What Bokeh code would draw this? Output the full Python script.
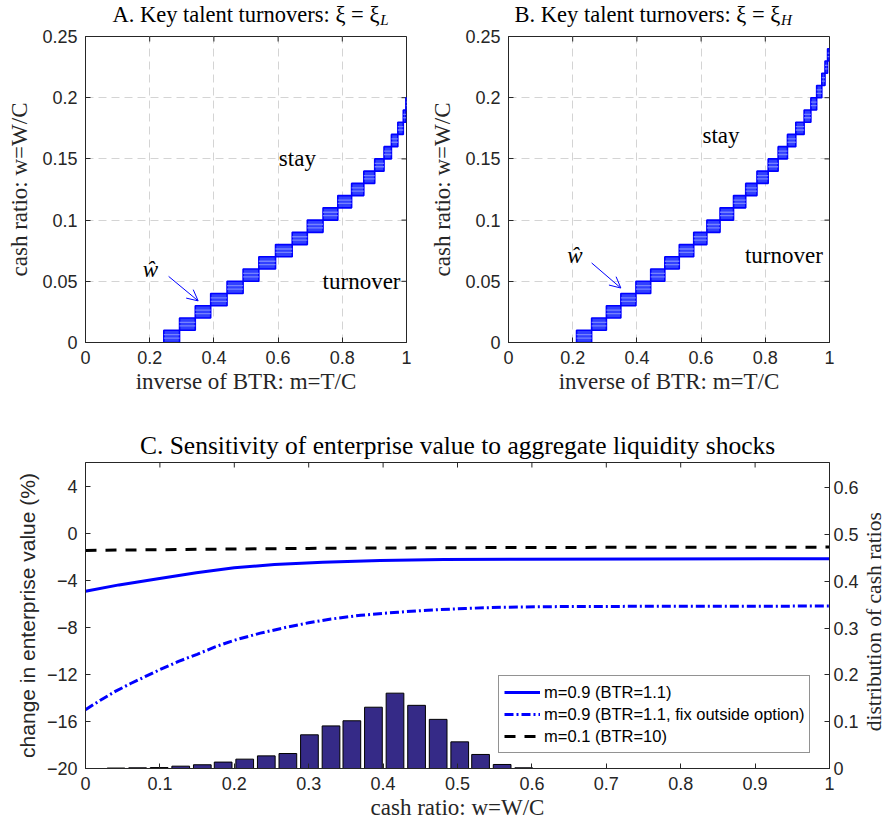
import numpy as np
from bokeh.plotting import figure
from bokeh.models import (Range1d, LinearAxis, FixedTicker, Label, Arrow, OpenHead,
                          Legend, LegendItem, Title)
from bokeh.layouts import column, row
from bokeh.embed import file_html
from bokeh.resources import INLINE
from bokeh.core.properties import value

# ---------------- data ----------------
# Panel A: turnover boundary blocks (xi = xi_L)
m_edges_A = [0.244, 0.293, 0.342, 0.390, 0.441, 0.491, 0.540, 0.592, 0.644, 0.691,
             0.740, 0.786, 0.829, 0.867, 0.901, 0.930, 0.953, 0.973, 0.990, 0.998, 1.003]
w_edges_A = [0.00, 0.01, 0.02, 0.03, 0.04, 0.05, 0.06, 0.07, 0.08, 0.09, 0.10,
             0.11, 0.12, 0.13, 0.14, 0.15, 0.16, 0.17, 0.18, 0.19, 0.20]
# Panel B: turnover boundary blocks (xi = xi_H)
m_edges_B = [0.212, 0.259, 0.305, 0.350, 0.397, 0.443, 0.487, 0.532, 0.577, 0.618,
             0.659, 0.701, 0.739, 0.774, 0.809, 0.840, 0.869, 0.895, 0.921, 0.942,
             0.960, 0.976, 0.986, 0.994, 1.0]
w_edges_B = [0.00, 0.01, 0.02, 0.03, 0.04, 0.05, 0.06, 0.07, 0.08, 0.09, 0.10,
             0.11, 0.12, 0.13, 0.14, 0.15, 0.16, 0.17, 0.18, 0.19, 0.20, 0.21,
             0.22, 0.23, 0.24]

# Panel C curves
w_solid = [0, 0.045, 0.0975, 0.149, 0.2, 0.254, 0.319, 0.396, 0.481, 0.579, 0.75, 1.0]
v_solid = [-4.94, -4.40, -3.88, -3.37, -2.95, -2.66, -2.47, -2.32, -2.24, -2.21, -2.19, -2.18]
w_dd = [0, 0.02, 0.04, 0.06, 0.08, 0.10, 0.125, 0.15, 0.175, 0.20, 0.235, 0.27, 0.30,
        0.33, 0.37, 0.42, 0.46, 0.51, 0.56, 0.64, 0.75, 0.85, 1.0]
v_dd = [-15.0, -14.2, -13.45, -12.8, -12.2, -11.6, -10.9, -10.3, -9.65, -9.1, -8.5, -8.0,
        -7.62, -7.3, -6.98, -6.72, -6.55, -6.4, -6.3, -6.24, -6.22, -6.21, -6.2]
w_dash = [0, 0.15, 0.3, 0.45, 0.6, 0.8, 1.0]
v_dash = [-1.47, -1.38, -1.30, -1.25, -1.22, -1.20, -1.19]

# Panel C histogram of cash ratios
hist_w = [0.041, 0.070, 0.099, 0.128, 0.157, 0.185, 0.214, 0.243, 0.272, 0.301,
          0.330, 0.358, 0.387, 0.416, 0.445, 0.474, 0.503, 0.531, 0.560, 0.589]
hist_h = [0.001, 0.0015, 0.002, 0.005, 0.008, 0.0137, 0.020, 0.027, 0.032, 0.072,
          0.091, 0.102, 0.131, 0.161, 0.135, 0.105, 0.057, 0.030, 0.0086, 0.0015]

xticks_AB = [0, 0.2, 0.4, 0.6, 0.8, 1]
xlabels_AB = ["0", "0.2", "0.4", "0.6", "0.8", "1"]
yticks_AB = [0, 0.05, 0.1, 0.15, 0.2, 0.25]
ylabels_AB = ["0", "0.05", "0.1", "0.15", "0.2", "0.25"]
xticks_C = [0, 0.1, 0.2, 0.3, 0.4, 0.5, 0.6, 0.7, 0.8, 0.9, 1]
xlabels_C = ["0", "0.1", "0.2", "0.3", "0.4", "0.5", "0.6", "0.7", "0.8", "0.9", "1"]
yticks_C = [-20, -16, -12, -8, -4, 0, 4]
rticks_C = [0, 0.1, 0.2, 0.3, 0.4, 0.5, 0.6]
rlabels_C = ["0", "0.1", "0.2", "0.3", "0.4", "0.5", "0.6"]

SERIF = "Liberation Serif"
SANS = "Liberation Sans"
AX = "#262626"
BLUE = "#0000ff"
TICK = 5


def style_axis(ax, ticks, labels=None, label_font=SERIF, label_size="23px"):
    ax.ticker = FixedTicker(ticks=ticks)
    if labels is not None:
        ax.major_label_overrides = {t: l for t, l in zip(ticks, labels)}
    ax.axis_line_color = AX
    ax.major_tick_line_color = AX
    ax.major_tick_in = TICK
    ax.major_tick_out = 0
    ax.minor_tick_line_color = None
    ax.major_label_text_font = SANS
    ax.major_label_text_color = AX
    ax.major_label_text_font_size = "18px"
    ax.axis_label_text_font = label_font
    ax.axis_label_text_font_style = "normal"
    ax.axis_label_text_color = AX
    ax.axis_label_text_font_size = label_size


def bare_fig(width, height, x_range, y_range):
    t = figure(width=width, height=height, output_backend="svg", toolbar_location=None,
               x_range=x_range, y_range=y_range, x_axis_type=None, y_axis_type=None,
               min_border=0)
    t.outline_line_color = None
    t.grid.visible = False
    return t


def title_fig(width, left_border, text_main, text_sub, x_end):
    # a strip above the panel, x in the same units as the panel's m axis
    t = bare_fig(width, 28, Range1d(-left_border / 321, (width - left_border) / 321),
                 Range1d(0, 28))
    t.text(x=[x_end], y=[14], text=[text_main], text_align="right",
           text_baseline="middle", text_font=value(SERIF), text_font_size="22.5px",
           text_color="black")
    t.text(x=[x_end + 0.003], y=[9], text=[text_sub], text_align="left",
           text_baseline="middle", text_font=value(SERIF), text_font_style="italic",
           text_font_size="15px", text_color="black")
    return t


def panel(m_edges, w_edges, left_border, right_border, what_xy, arrow_xy, stay_xy, turn_xy):
    p = figure(frame_width=321, frame_height=306, x_range=Range1d(0, 1),
               y_range=Range1d(0, 0.25), output_backend="svg", toolbar_location=None,
               min_border_left=left_border, min_border_right=right_border,
               min_border_top=8, min_border_bottom=63)
    p.outline_line_color = AX
    for g in (p.xgrid[0], p.ygrid[0]):
        g.grid_line_color = "#d4d4d4"
        g.grid_line_dash = "8 5"
        g.grid_line_width = 1
    p.xaxis.axis_label = "inverse of BTR: m=T/C"
    p.yaxis.axis_label = "cash ratio: w=W/C"
    style_axis(p.xaxis[0], xticks_AB, xlabels_AB)
    style_axis(p.yaxis[0], yticks_AB, ylabels_AB)
    p.xaxis.major_label_standoff = 8
    p.yaxis.major_label_standoff = 8
    p.xaxis.axis_label_standoff = 2
    p.yaxis.axis_label_standoff = 7
    # mirrored ticks on top and right edges (box on)
    ty = TICK * 0.25 / 306
    tx = TICK / 321
    p.segment(x0=xticks_AB, x1=xticks_AB, y0=[0.25] * len(xticks_AB),
              y1=[0.25 - ty] * len(xticks_AB), line_color=AX, line_width=1)
    p.segment(x0=[1] * len(yticks_AB), x1=[1 - tx] * len(yticks_AB), y0=yticks_AB,
              y1=yticks_AB, line_color=AX, line_width=1)

    me = np.array(m_edges)
    we = np.array(w_edges)
    left, rgt, bot, tp = me[:-1], me[1:], we[:-1], we[1:]
    p.quad(left=left, right=rgt, bottom=bot, top=tp, fill_color="#1f30ff",
           fill_alpha=0.92, line_color=BLUE, line_width=1.6)
    h = tp - bot
    for frac in (0.36, 0.64):
        yy = bot + frac * h
        p.segment(x0=left, x1=rgt, y0=yy, y1=yy, line_color="#7d8aff",
                  line_width=1.3, line_alpha=0.9)

    p.add_layout(Label(x=what_xy[0], y=what_xy[1], text="ŵ", text_font=SERIF,
                       text_font_style="italic", text_font_size="23px",
                       text_align="center", text_baseline="middle", text_color="black"))
    p.add_layout(Arrow(end=OpenHead(size=11, line_color=BLUE, line_width=1),
                       x_start=arrow_xy[0], y_start=arrow_xy[1],
                       x_end=arrow_xy[2], y_end=arrow_xy[3],
                       line_color=BLUE, line_width=1))
    p.add_layout(Label(x=stay_xy[0], y=stay_xy[1], text="stay", text_font=SERIF,
                       text_font_size="23px", text_align="center",
                       text_baseline="middle", text_color="black"))
    p.add_layout(Label(x=turn_xy[0], y=turn_xy[1], text="turnover", text_font=SERIF,
                       text_font_size="23px", text_align="center",
                       text_baseline="middle", text_color="black"))
    return p


tA = title_fig(416, 85, "A. Key talent turnovers: ξ = ξ", "L", 0.922)
pA = panel(m_edges_A, w_edges_A, 85, 10,
           (0.202, 0.060), (0.259, 0.054, 0.351, 0.034), (0.66, 0.150), (0.86, 0.050))
tB = title_fig(463, 92, "B. Key talent turnovers: ξ = ξ", "H", 0.935)
pB = panel(m_edges_B, w_edges_B, 92, 50,
           (0.207, 0.071), (0.259, 0.065, 0.350, 0.0445), (0.662, 0.169), (0.858, 0.071))

# ---------------- panel C ----------------
C_H = 57 + 306 + 58
pC = figure(frame_width=744, frame_height=306, x_range=Range1d(0, 1),
            y_range=Range1d(-20, 6), output_backend="svg", toolbar_location=None,
            min_border_left=85, min_border_right=30, min_border_top=57,
            min_border_bottom=58)
pC.title = Title(text="C. Sensitivity of enterprise value to aggregate liquidity shocks",
                 align="center", text_font=SERIF, text_font_size="25.5px",
                 text_font_style="normal", text_color="black", standoff=6)
pC.outline_line_color = AX
pC.grid.visible = False
pC.extra_y_ranges = {"dist": Range1d(0, 0.654)}
pC.xaxis.axis_label = "cash ratio: w=W/C"
pC.yaxis.axis_label = "change in enterprise value (%)"
style_axis(pC.xaxis[0], xticks_C, xlabels_C)
style_axis(pC.yaxis[0], yticks_C, label_font=SANS, label_size="21px")
pC.xaxis.major_label_standoff = 8
pC.yaxis.major_label_standoff = 8
pC.xaxis.axis_label_standoff = 2
pC.yaxis.axis_label_standoff = 5
raxis = LinearAxis(y_range_name="dist")
style_axis(raxis, rticks_C, rlabels_C)
raxis.major_label_standoff = 4
pC.add_layout(raxis, "right")
tyC = TICK * 26 / 306
pC.segment(x0=xticks_C, x1=xticks_C, y0=[6] * len(xticks_C), y1=[6 - tyC] * len(xticks_C),
           line_color=AX, line_width=1)

pC.vbar(x=hist_w, width=0.0238, top=hist_h, bottom=0, y_range_name="dist",
        fill_color="#352a87", line_color="black", line_width=1)
r1 = pC.line(w_solid, v_solid, line_color=BLUE, line_width=3)
r2 = pC.line(w_dd, v_dd, line_color=BLUE, line_width=3, line_dash="9 3 2 3")
r3 = pC.line(w_dash, v_dash, line_color="black", line_width=3, line_dash="11 9")

legend = Legend(items=[LegendItem(label="m=0.9 (BTR=1.1)", renderers=[r1]),
                       LegendItem(label="m=0.9 (BTR=1.1, fix outside option)", renderers=[r2]),
                       LegendItem(label="m=0.1 (BTR=10)", renderers=[r3])],
                location=(413, 15), label_text_font=SANS, label_text_font_size="16.5px",
                label_text_color="black", glyph_width=36, glyph_height=22,
                label_height=22, label_standoff=4, padding=5, spacing=0, margin=0,
                border_line_color=AX, border_line_width=1, background_fill_alpha=1)
pC.add_layout(legend, "center")

# right-hand axis title, reading bottom to top
rC = bare_fig(26, C_H, Range1d(0, 26), Range1d(0, C_H))
rC.text(x=[12], y=[C_H - 219], text=["distribution of cash ratios"], angle=np.pi / 2,
        text_align="center", text_baseline="middle", text_font=value(SERIF),
        text_font_size="21.5px", text_color=AX)

layout = column(row(column(tA, pA), column(tB, pB)), row(pC, rC))
open("out.html", "w").write(file_html(layout, INLINE))
